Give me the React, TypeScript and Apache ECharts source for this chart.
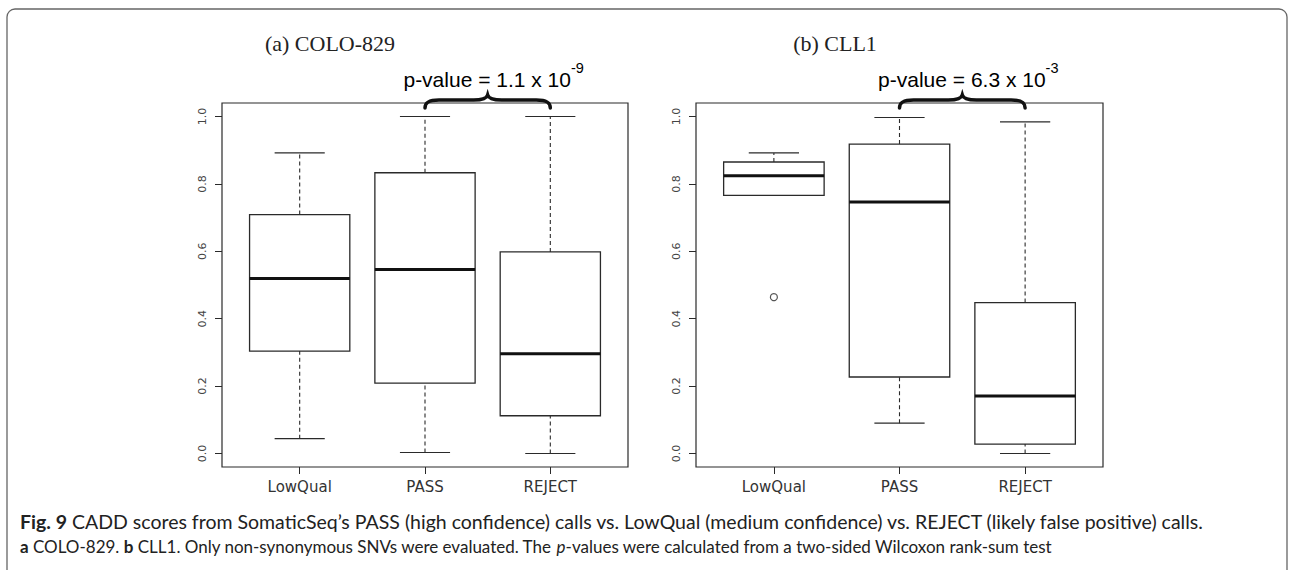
import React, { useEffect, useRef } from "react";
import * as echarts from "echarts";

// ---------- data ----------
const categories = ["LowQual", "PASS", "REJECT"];
// each box: [lower whisker, Q1, median, Q3, upper whisker]
const coloBoxes = [
  [0.044, 0.304, 0.519, 0.709, 0.892],
  [0.003, 0.209, 0.546, 0.833, 1.0],
  [0.0, 0.112, 0.296, 0.598, 1.0],
];
const cllBoxes = [
  [0.766, 0.766, 0.824, 0.865, 0.892],
  [0.09, 0.227, 0.746, 0.918, 0.997],
  [0.0, 0.028, 0.171, 0.448, 0.984],
];
const coloOutliers: number[][] = [];
const cllOutliers = [[0, 0.464]];
const yTicks = [0, 0.2, 0.4, 0.6, 0.8, 1.0];
const panelTitles = ["(a) COLO-829", "(b) CLL1"];
const pMantissas = ["1.1", "6.3"];
const pExponents = ["-9", "-3"];
const comparedPair = [1, 2]; // PASS vs REJECT (category indices)
const captionLine1 =
  "{b|Fig. 9} CADD scores from SomaticSeq\u2019s PASS (high confidence) calls vs. LowQual (medium confidence) vs. REJECT (likely false positive) calls.";
const captionLine2 =
  "{b|a} COLO-829. {b|b} CLL1. Only non-synonymous SNVs were evaluated. The {i|p}-values were calculated from a two-sided Wilcoxon rank-sum test";

const INK = "#2a2a2a";

const renderBox = (params: any, api: any) => {
  const xi = api.value(0);
  const lo = api.value(1);
  const q1 = api.value(2);
  const med = api.value(3);
  const q3 = api.value(4);
  const hi = api.value(5);
  const boxHalf = 0.4;
  const capHalf = 0.2;
  const c = (x: number, y: number) => api.coord([x, y]);
  const tl = c(xi - boxHalf, q3);
  const br = c(xi + boxHalf, q1);
  const pLo = c(xi, lo);
  const pQ1 = c(xi, q1);
  const pQ3 = c(xi, q3);
  const pHi = c(xi, hi);
  const capLoL = c(xi - capHalf, lo);
  const capLoR = c(xi + capHalf, lo);
  const capHiL = c(xi - capHalf, hi);
  const capHiR = c(xi + capHalf, hi);
  const medL = c(xi - boxHalf, med);
  const medR = c(xi + boxHalf, med);
  const solid = { stroke: INK, lineWidth: 1.2, fill: null };
  const dashed = { stroke: INK, lineWidth: 1.1, lineDash: [4, 3], fill: null };
  return {
    type: "group",
    children: [
      { type: "line", shape: { x1: pQ3[0], y1: pQ3[1], x2: pHi[0], y2: pHi[1] }, style: dashed },
      { type: "line", shape: { x1: pLo[0], y1: pLo[1], x2: pQ1[0], y2: pQ1[1] }, style: dashed },
      { type: "line", shape: { x1: capHiL[0], y1: capHiL[1], x2: capHiR[0], y2: capHiR[1] }, style: solid },
      { type: "line", shape: { x1: capLoL[0], y1: capLoL[1], x2: capLoR[0], y2: capLoR[1] }, style: solid },
      {
        type: "rect",
        shape: { x: tl[0], y: tl[1], width: br[0] - tl[0], height: br[1] - tl[1] },
        style: { stroke: INK, lineWidth: 1.3, fill: "#ffffff" },
      },
      { type: "line", shape: { x1: medL[0], y1: medL[1], x2: medR[0], y2: medR[1] }, style: { stroke: "#111", lineWidth: 3 } },
    ],
  };
};

const makeAxes = (k: number) => {
  const xAxis = {
    type: "value",
    gridIndex: k,
    min: -0.62,
    max: 2.62,
    axisLine: { show: false, onZero: false },
    splitLine: { show: false },
    axisTick: { show: true, customValues: [0, 1, 2], length: 7, lineStyle: { color: INK, width: 1 } },
    axisLabel: {
      customValues: [0, 1, 2],
      formatter: (v: number) => categories[Math.round(v)] ?? "",
      fontFamily: "DejaVu Sans",
      fontSize: 15,
      color: "#333",
      margin: 12,
    },
  };
  const yAxis = {
    type: "value",
    gridIndex: k,
    min: -0.04,
    max: 1.04,
    axisLine: { show: false, onZero: false },
    splitLine: { show: false },
    axisTick: { show: true, customValues: yTicks, length: 7, lineStyle: { color: INK, width: 1 } },
    axisLabel: {
      customValues: yTicks,
      formatter: (v: number) => v.toFixed(1),
      rotate: 90,
      fontFamily: "DejaVu Sans",
      fontSize: 11,
      color: "#444",
      margin: 14,
    },
  };
  return { xAxis, yAxis };
};

export default function App() {
  const ref = useRef<HTMLDivElement>(null);
  useEffect(() => {
    document.body.style.margin = "0";
    const chart = echarts.init(ref.current!, null, { renderer: "svg" });
    const a0 = makeAxes(0);
    const a1 = makeAxes(1);
    const boxSets = [coloBoxes, cllBoxes];
    const outlierSets = [coloOutliers, cllOutliers];
    chart.setOption({
      animation: false,
      backgroundColor: "#ffffff",
      grid: [
        { left: 222, top: 103, width: 406, height: 364, show: true, borderColor: INK, borderWidth: 1.2, backgroundColor: "transparent" },
        { left: 696, top: 103, width: 407, height: 364, show: true, borderColor: INK, borderWidth: 1.2, backgroundColor: "transparent" },
      ],
      xAxis: [a0.xAxis, a1.xAxis],
      yAxis: [a0.yAxis, a1.yAxis],
      series: [
        ...boxSets.map((boxes, k) => ({
          type: "custom",
          xAxisIndex: k,
          yAxisIndex: k,
          renderItem: renderBox,
          encode: { x: 0, y: [1, 2, 3, 4, 5] },
          data: boxes.map((b, i) => [i, ...b]),
          clip: false,
        })),
        ...outlierSets.map((pts, k) => ({
          type: "scatter",
          xAxisIndex: k,
          yAxisIndex: k,
          data: pts,
          symbol: "circle",
          symbolSize: 7,
          itemStyle: { color: "#fff", borderColor: INK, borderWidth: 1.2 },
        })),
      ],
    });

    // annotations positioned from the axes
    const graphics: any[] = [];
    graphics.push({
      type: "rect",
      shape: { x: 7, y: 9, width: 1280, height: 620, r: 8 },
      style: { fill: "none", stroke: "#666", lineWidth: 1.3 },
      z: -1,
    });
    [0, 1].forEach((k) => {
      const finder = { xAxisIndex: k, yAxisIndex: k };
      const pl = chart.convertToPixel(finder, [comparedPair[0], 1.04]) as number[];
      const pr = chart.convertToPixel(finder, [comparedPair[1], 1.04]) as number[];
      const W = pr[0] - pl[0];
      const H = 13;
      const r = 14;
      const m = W / 2;
      const d = `M0,${H} C0,${H - 5} 3,5 ${r},5 L${m - r},5 C${m - 5},5 ${m - 1},3.5 ${m},0 C${m + 1},3.5 ${m + 5},5 ${m + r},5 L${W - r},5 C${W - 3},5 ${W},${H - 5} ${W},${H}`;
      const name = "brace" + k;
      echarts.graphic.registerShape(name, (echarts.graphic as any).extendPath(d, {}));
      graphics.push({
        type: name,
        x: pl[0],
        y: pl[1] - 8,
        style: { fill: "none", stroke: "#111", lineWidth: 3.5, lineCap: "round" },
      });
      graphics.push({
        type: "text",
        x: (pl[0] + pr[0]) / 2 + 6,
        y: pl[1] - 28,
        style: {
          text: `{m|p-value = ${pMantissas[k]} x 10}{s|${pExponents[k]}}`,
          align: "center",
          verticalAlign: "middle",
          rich: {
            m: { fontFamily: "Liberation Sans", fontSize: 21, color: "#111", lineHeight: 29, verticalAlign: "bottom" },
            s: { fontFamily: "Liberation Sans", fontSize: 14.5, color: "#111", lineHeight: 29, verticalAlign: "top" },
          },
        },
      });
      const centers = [330, 835];
      graphics.push({
        type: "text",
        x: centers[k],
        y: 43,
        style: {
          text: panelTitles[k],
          align: "center",
          verticalAlign: "middle",
          fontFamily: "Liberation Serif",
          fontSize: 22,
          fill: "#222",
        },
      });
    });
    const captionSizes = [19.5, 17];
    [captionLine1, captionLine2].forEach((line, i) => {
      const fs = captionSizes[i];
      graphics.push({
        type: "text",
        x: 20,
        y: 521 + i * 25,
        style: {
          text: line,
          align: "left",
          verticalAlign: "middle",
          fontFamily: "Lato",
          fontSize: fs,
          fill: "#222",
          rich: {
            b: { fontFamily: "Lato", fontSize: fs, fontWeight: "bold", color: "#222" },
            i: { fontFamily: "Lato", fontSize: fs, fontStyle: "italic", color: "#222" },
          },
        },
      });
    });
    chart.setOption({ graphic: graphics });
    return () => chart.dispose();
  }, []);
  return <div ref={ref} style={{ width: 1294, height: 570 }} />;
}
